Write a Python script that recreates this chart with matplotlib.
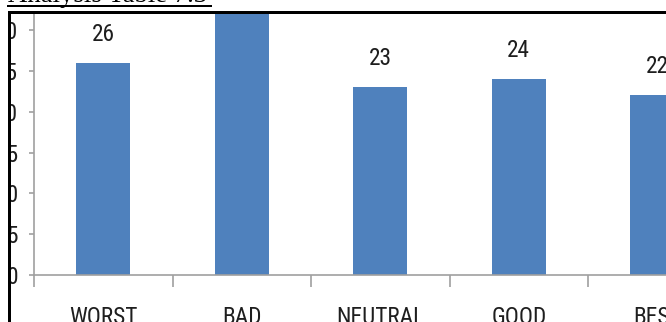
import matplotlib
matplotlib.use("Agg")
import os
import matplotlib.pyplot as plt
from matplotlib import font_manager
from matplotlib.patches import Rectangle
from matplotlib.lines import Line2D

# Responses per rating category
categories = ["WORST", "BAD", "NEUTRAL", "GOOD", "BEST"]
counts = [26, 35, 23, 24, 22]
y_ticks = [0, 5, 10, 15, 20, 25, 30]
title = "Analysis Table 7.3"

W, H = 666, 322
DPI = 100
BAR_COLOR = "#4F81BD"
AXIS_COLOR = "#a0a0a0"
TEXT_COLOR = "#1e1e1e"

# regular-weight narrow sans faces, in any of which the labels read well
NARROW_FACES = (
    "notosans-extracondensed.ttf",
    "notosans-condensed.ttf",
    "notosans-semicondensed.ttf",
    "robotocondensed-regular.ttf",
    "liberationsansnarrow-regular.ttf",
    "dejavusanscondensed.ttf",
)


def _measure(fname, text):
    font = font_manager.get_font(fname)
    font.set_size(100, 72)  # 100 px em
    font.set_text(text, 0.0)
    w, h = font.get_width_height()
    return w / 64.0 / 100.0, h / 64.0 / 100.0  # in em


def label_font(word_px, digit_px):
    target = word_px / digit_px
    best = None
    for f in font_manager.fontManager.ttflist:
        if os.path.basename(f.fname).lower() not in NARROW_FACES:
            continue
        try:
            w_em, _ = _measure(f.fname, "WORST")
            _, h_em = _measure(f.fname, "26")
        except Exception:
            continue
        score = abs(w_em / h_em - target)
        if best is None or score < best[0]:
            best = (score, f.fname, w_em, h_em)
    if best is None:
        return font_manager.FontProperties(family=["Liberation Sans", "DejaVu Sans"], size=15)
    _, fname, w_em, h_em = best
    em_px = 0.5 * (word_px / w_em + digit_px / h_em)
    return font_manager.FontProperties(fname=fname, size=em_px * 72 / DPI)


label_fp = label_font(51, 21.5)

fig = plt.figure(figsize=(W / DPI, H / DPI), dpi=DPI)
fig.patch.set_facecolor("white")


def fx(px):
    return px / W


def fy(py):
    # pixel row measured from the top edge -> figure fraction
    return 1 - py / H


# plot area: category -0.5 at x=34px, value 0 at y=275px, 30 units = 245px
ymax = 40
unit = 245 / 30
left, right = 34, 34 + 138.5 * 5
bottom = 275
top = bottom - ymax * unit
ax = fig.add_axes([fx(left), fy(bottom), fx(right - left), (bottom - top) / H])
ax.set_xlim(-0.5, 4.5)
ax.set_ylim(0, ymax)

x = range(len(categories))
ax.bar(x, counts, width=0.39, color=BAR_COLOR, zorder=2)

for xi, v in zip(x, counts):
    ax.annotate(str(v), (xi, v), xytext=(0, 22 * 72 / DPI), textcoords="offset points",
                ha="center", va="baseline", fontproperties=label_fp, color=TEXT_COLOR,
                annotation_clip=False)

for side in ("top", "right"):
    ax.spines[side].set_visible(False)
for side in ("left", "bottom"):
    ax.spines[side].set_color(AXIS_COLOR)
    ax.spines[side].set_linewidth(1.2)

ax.set_yticks(y_ticks)
ax.set_yticklabels([str(t) for t in y_ticks], fontproperties=label_fp, color=TEXT_COLOR)
ax.tick_params(axis="y", direction="out", length=5 * 72 / DPI, width=1.2, color=AXIS_COLOR,
               pad=11 * 72 / DPI)

# category boundaries carry the tick marks, names sit on the centres
ax.set_xticks([i - 0.5 for i in range(len(categories) + 1)])
ax.set_xticklabels([])
ax.set_xticks(list(x), minor=True)
ax.set_xticklabels(categories, minor=True, fontproperties=label_fp, color=TEXT_COLOR)
ax.tick_params(axis="x", which="major", direction="out", length=12 * 72 / DPI, width=1.2,
               color=AXIS_COLOR)
ax.tick_params(axis="x", which="minor", length=0, pad=31 * 72 / DPI)

# page margin and frame around the chart
fig.add_artist(Rectangle((0, 0), fx(8), 1, transform=fig.transFigure, facecolor="white",
                         edgecolor="none", zorder=5))
fig.add_artist(Rectangle((0, fy(11)), 1, 11 / H, transform=fig.transFigure, facecolor="white",
                         edgecolor="none", zorder=5))
fig.add_artist(Rectangle((fx(8), 0), fx(3), fy(11), transform=fig.transFigure,
                         facecolor="black", edgecolor="none", zorder=6))
fig.add_artist(Rectangle((fx(8), fy(14)), 1, 3 / H, transform=fig.transFigure,
                         facecolor="black", edgecolor="none", zorder=6))

# underlined caption above the frame
fig.text(fx(8), fy(1.5), title, family=["Liberation Serif", "DejaVu Serif"], fontsize=19.3,
         ha="left", va="baseline", color="black", zorder=7)
fig.add_artist(Line2D([fx(8), fx(211)], [fy(6), fy(6)], transform=fig.transFigure,
                      color="black", linewidth=2 * 72 / DPI, zorder=7))

fig.savefig("out.png", dpi=DPI)
